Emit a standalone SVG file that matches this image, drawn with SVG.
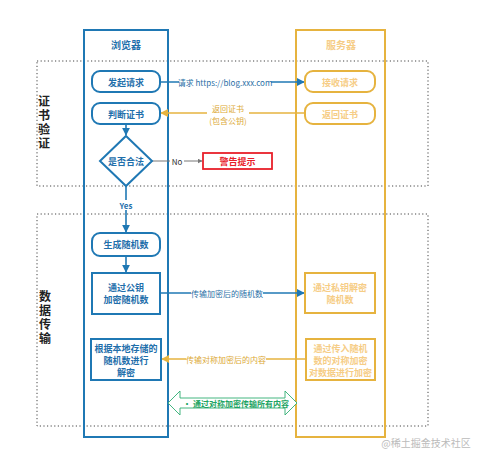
<svg xmlns="http://www.w3.org/2000/svg" width="485" height="459" viewBox="0 0 485 459">
<defs>
<style>
.t{font-family:"Noto Sans CJK SC","Liberation Sans",sans-serif;text-anchor:middle;dominant-baseline:central}
.bt{font-size:9px;font-weight:bold;fill:#1f6fab}
.st{font-size:9px;font-weight:bold;fill:#f6cd86}
.lbl{font-size:8px;fill:#2a6fa6}
.olbl{font-size:8px;fill:#dca935}
.side{font-family:"Noto Sans CJK SC",sans-serif;font-size:12px;font-weight:bold;fill:#222;writing-mode:vertical-rl;letter-spacing:2px}
.bnode{fill:#fff;stroke:#1f78b4;stroke-width:2}
.snode{fill:#fff;stroke:#e6b33f;stroke-width:2}
.dash{fill:none;stroke:#444;stroke-width:1;stroke-dasharray:1.2 2.4}
.bl{stroke:#1f78b4;stroke-width:1.6;fill:none}
.ol{stroke:#e6b33f;stroke-width:1.6;fill:none}
</style>
<marker id="ab" viewBox="0 0 10 10" refX="9" refY="5" markerWidth="5" markerHeight="5" orient="auto"><path d="M0,0L10,5L0,10z" fill="#1f78b4"/></marker>
<marker id="ao" viewBox="0 0 10 10" refX="9" refY="5" markerWidth="5" markerHeight="5" orient="auto"><path d="M0,0L10,5L0,10z" fill="#e6b33f"/></marker>
<marker id="ag" viewBox="0 0 10 10" refX="9" refY="5" markerWidth="5" markerHeight="5" orient="auto"><path d="M0,0L10,5L0,10z" fill="#777"/></marker>
</defs>
<rect width="485" height="459" fill="#fff"/>
<g id="sections">
<rect class="dash" x="37" y="61" width="391" height="125"/>
<rect class="dash" x="37" y="214" width="391" height="212"/>
<text class="side" x="44" y="95">证书验证</text>
<text class="side" x="45" y="290">数据传输</text>
</g>
<g id="lane-browser">
<rect x="84" y="30" width="84" height="407" fill="none" stroke="#1f78b4" stroke-width="2"/>
<text class="t" x="126" y="44" style="font-size:10px;font-weight:bold;fill:#1f6fab">浏览器</text>
</g>
<g id="lane-server">
<rect x="296" y="30" width="89" height="407" fill="none" stroke="#e6b33f" stroke-width="2"/>
<text class="t" x="341" y="44" style="font-size:10px;font-weight:bold;fill:#f6cd86">服务器</text>
</g>
<g id="connectors">
<line class="bl" x1="160" y1="82" x2="304" y2="82" marker-end="url(#ab)"/>
<rect x="179" y="77" width="92" height="10" fill="#fff"/>
<text class="t lbl" x="225" y="82">请求 https://blog.xxx.com</text>
<line class="ol" x1="305" y1="113" x2="161" y2="113" marker-end="url(#ao)"/>
<rect x="207" y="103" width="42" height="22" fill="#fff"/>
<text class="t olbl" x="228" y="108">返回证书</text>
<text class="t olbl" x="228" y="120">(包含公钥)</text>
<line class="bl" x1="126" y1="124" x2="126" y2="135" marker-end="url(#ab)"/>
<line x1="152" y1="161" x2="202" y2="161" stroke="#777" stroke-width="1" marker-end="url(#ag)"/>
<rect x="170" y="156" width="14" height="10" fill="#fff"/>
<text class="t" x="177" y="161" style="font-size:8px;fill:#333">No</text>
<line class="bl" x1="126" y1="186" x2="126" y2="232" marker-end="url(#ab)"/>
<rect x="116" y="200" width="20" height="10" fill="#fff"/>
<text class="t" x="126" y="205" style="font-size:8px;font-weight:bold;fill:#1f6fab">Yes</text>
<line class="bl" x1="126" y1="256" x2="126" y2="272" marker-end="url(#ab)"/>
<line class="bl" x1="160" y1="293" x2="304" y2="293" marker-end="url(#ab)"/>
<rect x="191" y="288" width="72" height="10" fill="#fff"/>
<text class="t lbl" x="227" y="293">传输加密后的随机数</text>
<line class="ol" x1="306" y1="359" x2="162" y2="359" marker-end="url(#ao)"/>
<rect x="186" y="354" width="80" height="10" fill="#fff"/>
<text class="t olbl" x="226" y="359">传输对称加密后的内容</text>
<path d="M168,403 L180,391 L180,398 L285,398 L285,391 L297,403 L285,415 L285,408 L180,408 L180,415 Z" fill="#fff" stroke="#2fae73" stroke-width="0.9"/>
<text class="t" x="236" y="403" style="font-size:8px;font-weight:bold;fill:#1da463">• 通过对称加密传输所有内容</text>
</g>
<g id="n-request">
<rect class="bnode" x="92" y="71" width="68" height="21" rx="8"/>
<text class="t bt" x="126" y="82">发起请求</text>
</g>
<g id="n-judge">
<rect class="bnode" x="92" y="103" width="68" height="21" rx="8"/>
<text class="t bt" x="126" y="114">判断证书</text>
</g>
<g id="n-valid">
<path class="bnode" d="M126,136 L152,161 L126,186 L100,161 Z"/>
<text class="t bt" x="126" y="161">是否合法</text>
</g>
<g id="n-warn">
<rect x="203" y="153" width="69" height="16" fill="#fff" stroke="#e8202a" stroke-width="1.8"/>
<text class="t" x="237.5" y="161" style="font-size:9px;font-weight:bold;fill:#e8202a">警告提示</text>
</g>
<g id="n-gen">
<rect class="bnode" x="92" y="233" width="68" height="23" rx="8"/>
<text class="t bt" x="126" y="244.5">生成随机数</text>
</g>
<g id="n-encrypt">
<rect class="bnode" x="92" y="273" width="68" height="41"/>
<text class="t bt" x="126" y="287">通过公钥</text>
<text class="t bt" x="126" y="299">加密随机数</text>
</g>
<g id="n-decrypt-local">
<rect class="bnode" x="91" y="339" width="70" height="41"/>
<text class="t bt" x="126" y="348">根据本地存储的</text>
<text class="t bt" x="126" y="360">随机数进行</text>
<text class="t bt" x="126" y="372">解密</text>
</g>
<g id="n-receive">
<rect class="snode" x="305" y="71" width="70" height="21" rx="8"/>
<text class="t st" x="340" y="82">接收请求</text>
</g>
<g id="n-return">
<rect class="snode" x="305" y="103" width="70" height="21" rx="8"/>
<text class="t st" x="340" y="114">返回证书</text>
</g>
<g id="n-privdecrypt">
<rect class="snode" x="305" y="273" width="70" height="40"/>
<text class="t st" x="340" y="287">通过私钥解密</text>
<text class="t st" x="340" y="299">随机数</text>
</g>
<g id="n-symencrypt">
<rect class="snode" x="306" y="339" width="69" height="41"/>
<text class="t st" x="340.5" y="348">通过传入随机</text>
<text class="t st" x="340.5" y="360">数的对称加密</text>
<text class="t st" x="340.5" y="372">对数据进行加密</text>
</g>
<text class="t" x="426" y="442" style="font-size:10px;fill:#bbb">@稀土掘金技术社区</text>
</svg>
